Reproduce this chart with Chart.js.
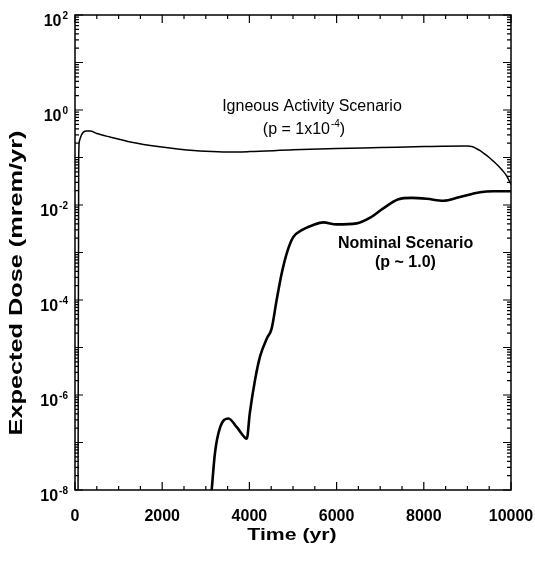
<!DOCTYPE html>
<html>
<head>
<meta charset="utf-8">
<script src="https://cdn.jsdelivr.net/npm/chart.js@4.4.1/dist/chart.umd.min.js"></script>
<style>
  html, body { margin: 0; padding: 0; background: #fff; }
  #wrap { width: 535px; height: 563px; }
</style>
</head>
<body>
<div id="wrap"><canvas id="graficoDose" width="535" height="563"></canvas></div>
<script>
// Cenário de atividade ígnea (linha fina)
const igneoTempo = [70, 85, 100, 150, 250, 350, 500, 800, 1300, 1900, 2400, 3000, 3500, 4000, 5000, 6000, 7000, 8000, 9000, 9100, 9200, 9300, 9400, 9500, 9600, 9700, 9800, 9900, 10000];
const igneoDose = [1e-8, 0.1, 0.22, 0.3, 0.36, 0.36, 0.32, 0.27, 0.21, 0.17, 0.15, 0.135, 0.13, 0.133, 0.145, 0.155, 0.162, 0.17, 0.175, 0.17, 0.155, 0.138, 0.118, 0.1, 0.083, 0.068, 0.054, 0.041, 0.027];

// Cenário nominal (linha grossa)
const nominalTempo = [3135, 3210, 3330, 3520, 3710, 3900, 3940, 4010, 4130, 4245, 4400, 4510, 4625, 4740, 4855, 5005, 5200, 5465, 5695, 6000, 6460, 6770, 7070, 7420, 7720, 8070, 8450, 8830, 9290, 9600, 10000];
const nominalDose = [1e-8, 6.0e-8, 2.1e-7, 3.2e-7, 2.1e-7, 1.26e-7, 1.2e-7, 4.2e-7, 2.1e-6, 6.5e-6, 1.55e-5, 2.5e-5, 1.0e-4, 3.6e-4, 9.5e-4, 2.1e-3, 2.95e-3, 3.8e-3, 4.3e-3, 3.9e-3, 4.1e-3, 5.4e-3, 8.5e-3, 1.32e-2, 1.41e-2, 1.35e-2, 1.23e-2, 1.48e-2, 1.86e-2, 1.95e-2, 1.95e-2];

// rótulos dos eixos
const xRotulos = [0, 2000, 4000, 6000, 8000, 10000];
const yExpoentes = [2, 0, -2, -4, -6, -8];

const fonte = '"Liberation Sans", Arial, Helvetica, sans-serif';

function pontos(tempos, doses) {
  return tempos.map((t, i) => ({ x: t, y: doses[i] }));
}

function textoEsticado(ctx, txt, x, y, escala) {
  ctx.save();
  ctx.translate(x, y);
  ctx.scale(escala, 1);
  ctx.fillText(txt, 0, 0);
  ctx.restore();
}

// eixos, marcas e textos desenhados à mão
const molduraPlugin = {
  id: "moldura",
  afterDraw(chart) {
    const ctx = chart.ctx;
    const area = chart.chartArea;
    const sx = chart.scales.x;
    const sy = chart.scales.y;

    ctx.save();
    ctx.strokeStyle = "#000";
    ctx.fillStyle = "#000";
    ctx.lineWidth = 1.5;
    ctx.strokeRect(area.left, area.top, area.right - area.left, area.bottom - area.top);

    // marcas do eixo x (para dentro)
    ctx.lineWidth = 1.2;
    for (let t = 0; t <= 10000; t += 500) {
      const px = sx.getPixelForValue(t);
      const len = t % 2000 === 0 ? 8 : 4;
      ctx.beginPath();
      ctx.moveTo(px, area.bottom);
      ctx.lineTo(px, area.bottom - len);
      ctx.moveTo(px, area.top);
      ctx.lineTo(px, area.top + len);
      ctx.stroke();
    }

    // marcas do eixo y (log)
    for (let e = -8; e <= 2; e++) {
      for (let m = 1; m <= 9; m++) {
        if (e === 2 && m > 1) break;
        const py = sy.getPixelForValue(m * Math.pow(10, e));
        const len = m === 1 ? 8 : 4;
        ctx.beginPath();
        ctx.moveTo(area.left, py);
        ctx.lineTo(area.left + len, py);
        ctx.moveTo(area.right, py);
        ctx.lineTo(area.right - len, py);
        ctx.stroke();
      }
    }

    // rótulos x
    ctx.font = "bold 16px " + fonte;
    ctx.textAlign = "center";
    ctx.textBaseline = "alphabetic";
    xRotulos.forEach((t) => {
      ctx.fillText(String(t), sx.getPixelForValue(t), 521);
    });

    // rótulos y com expoente
    yExpoentes.forEach((e) => {
      const py = sy.getPixelForValue(Math.pow(10, e));
      const exp = e < 0 ? "-" + Math.abs(e) : String(e);
      ctx.font = "bold 10px " + fonte;
      const wExp = ctx.measureText(exp).width;
      ctx.textAlign = "left";
      const xExp = 68 - wExp;
      ctx.fillText(exp, xExp, py + 4);
      ctx.font = "bold 16px " + fonte;
      ctx.textAlign = "right";
      ctx.fillText("10", xExp - 1, py + 11);
    });

    // títulos dos eixos
    ctx.font = "bold 17px " + fonte;
    ctx.textAlign = "center";
    textoEsticado(ctx, "Time (yr)", 292, 540, 1.25);

    ctx.save();
    ctx.translate(22, 283);
    ctx.rotate(-Math.PI / 2);
    ctx.font = "bold 19px " + fonte;
    ctx.textAlign = "center";
    ctx.scale(1.33, 1);
    ctx.fillText("Expected Dose (mrem/yr)", 0, 0);
    ctx.restore();

    // anotações
    ctx.font = "16px " + fonte;
    ctx.textAlign = "center";
    ctx.fillText("Igneous Activity Scenario", 312, 111);

    ctx.textAlign = "left";
    const parte1 = "(p = 1x10";
    const w1 = ctx.measureText(parte1).width;
    ctx.font = "10px " + fonte;
    const wSup = ctx.measureText("-4").width;
    ctx.font = "16px " + fonte;
    const wFim = ctx.measureText(")").width;
    let xi = 304 - (w1 + wSup + 1 + wFim) / 2;
    ctx.fillText(parte1, xi, 134);
    ctx.font = "10px " + fonte;
    ctx.fillText("-4", xi + w1 + 1, 127);
    ctx.font = "16px " + fonte;
    ctx.fillText(")", xi + w1 + wSup + 1, 134);

    ctx.font = "bold 16px " + fonte;
    ctx.textAlign = "left";
    ctx.fillText("Nominal Scenario", 338, 248);
    ctx.fillText("(p ~ 1.0)", 375, 267);
    ctx.restore();
  },
};

const graficoDose = new Chart(document.getElementById("graficoDose"), {
  type: "line",
  data: {
    datasets: [
      {
        label: "Igneous Activity Scenario",
        data: pontos(igneoTempo, igneoDose),
        borderColor: "#000",
        borderWidth: 1.5,
        pointRadius: 0,
        cubicInterpolationMode: "monotone",
        fill: false,
      },
      {
        label: "Nominal Scenario",
        data: pontos(nominalTempo, nominalDose),
        borderColor: "#000",
        borderWidth: 2.6,
        pointRadius: 0,
        cubicInterpolationMode: "monotone",
        fill: false,
      },
    ],
  },
  options: {
    responsive: false,
    animation: false,
    layout: {
      padding: { left: 75, right: 24, top: 15, bottom: 73 },
    },
    plugins: {
      legend: { display: false },
      tooltip: { enabled: false },
    },
    scales: {
      x: {
        type: "linear",
        min: 0,
        max: 10000,
        display: false,
      },
      y: {
        type: "logarithmic",
        min: 1e-8,
        max: 100,
        display: false,
      },
    },
  },
  plugins: [molduraPlugin],
});
</script>
</body>
</html>
